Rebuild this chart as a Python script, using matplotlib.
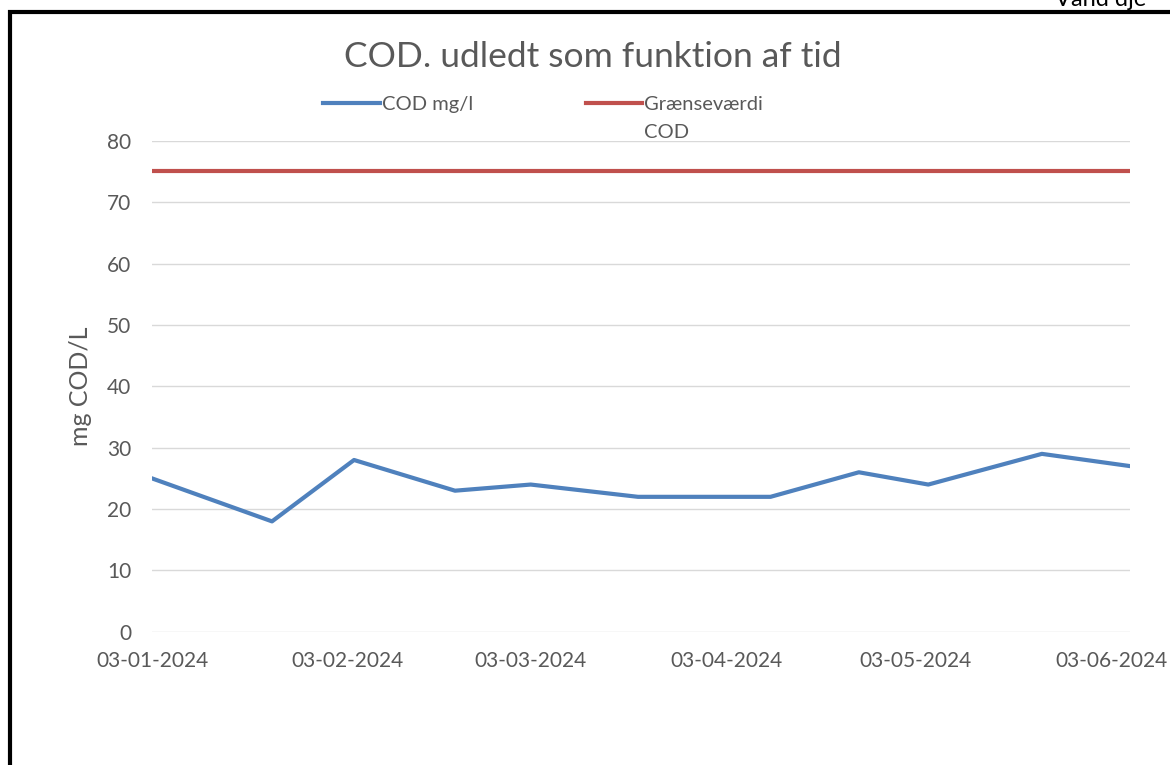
import matplotlib.pyplot as plt
import matplotlib.dates as mdates
from matplotlib.patches import Rectangle
import pandas as pd

dates = ['2024-01-03', '2024-01-22', '2024-02-04', '2024-02-20', '2024-03-03',
         '2024-03-20', '2024-04-10', '2024-04-24', '2024-05-05', '2024-05-23',
         '2024-06-06']
cod = [25, 18, 28, 23, 24, 22, 22, 26, 24, 29, 27]
limit = 75
tick_dates = ['2024-01-03', '2024-02-03', '2024-03-03', '2024-04-03',
              '2024-05-03', '2024-06-03']

x = pd.to_datetime(dates)
ticks = pd.to_datetime(tick_dates)

plt.rcParams['font.family'] = ['Lato', 'DejaVu Sans']
grey = '#595959'

fig = plt.figure(figsize=(11.7, 7.65), dpi=100)
ax = fig.add_axes([0.13, 0.174, 0.836, 0.642])

ax.plot(x, cod, color='#4F81BD', lw=3, label='COD mg/l', solid_joinstyle='round')
ax.plot([x[0], x[-1]], [limit, limit], color='#C0504D', lw=3,
        label='Grænseværdi')

ax.set_xlim(x[0], x[-1])
ax.set_ylim(0, 80)
ax.set_yticks(range(0, 81, 10))
ax.set_xticks(ticks)
ax.xaxis.set_major_formatter(mdates.DateFormatter('%d-%m-%Y'))
ax.grid(axis='y', color='#d9d9d9', lw=1)
ax.set_axisbelow(True)
for s in ax.spines.values():
    s.set_visible(False)
ax.tick_params(length=0, labelsize=15, labelcolor=grey)
ax.tick_params(axis='x', pad=14)
ax.tick_params(axis='y', pad=15)
ax.set_ylabel('mg COD/L', fontsize=18, color=grey, labelpad=11)

fig.suptitle('COD. udledt som funktion af tid', fontsize=25.5, color=grey,
             x=0.507, y=0.946)
leg = ax.legend(loc='lower center', bbox_to_anchor=(0.40, 1.019), ncol=2,
                frameon=False, fontsize=14.5, handlelength=2.8,
                handletextpad=0.1, columnspacing=5.6)
for t in leg.get_texts():
    t.set_color(grey)
# second line of the wrapped legend label, drawn after the legend
ax.annotate('COD', xy=(0, 0), xycoords=leg.get_texts()[1], xytext=(0, -8),
            textcoords='offset points', va='top', ha='left',
            fontsize=14.5, color=grey, zorder=10)

fig.add_artist(Rectangle((0.0085, -0.2), 1.5, 1.1837, fill=False, lw=3,
                         edgecolor='black', transform=fig.transFigure))
fig.text(0.902, 0.992, 'Vand dje', fontsize=17, color='black', va='baseline')

fig.savefig('out.png', dpi=100)
